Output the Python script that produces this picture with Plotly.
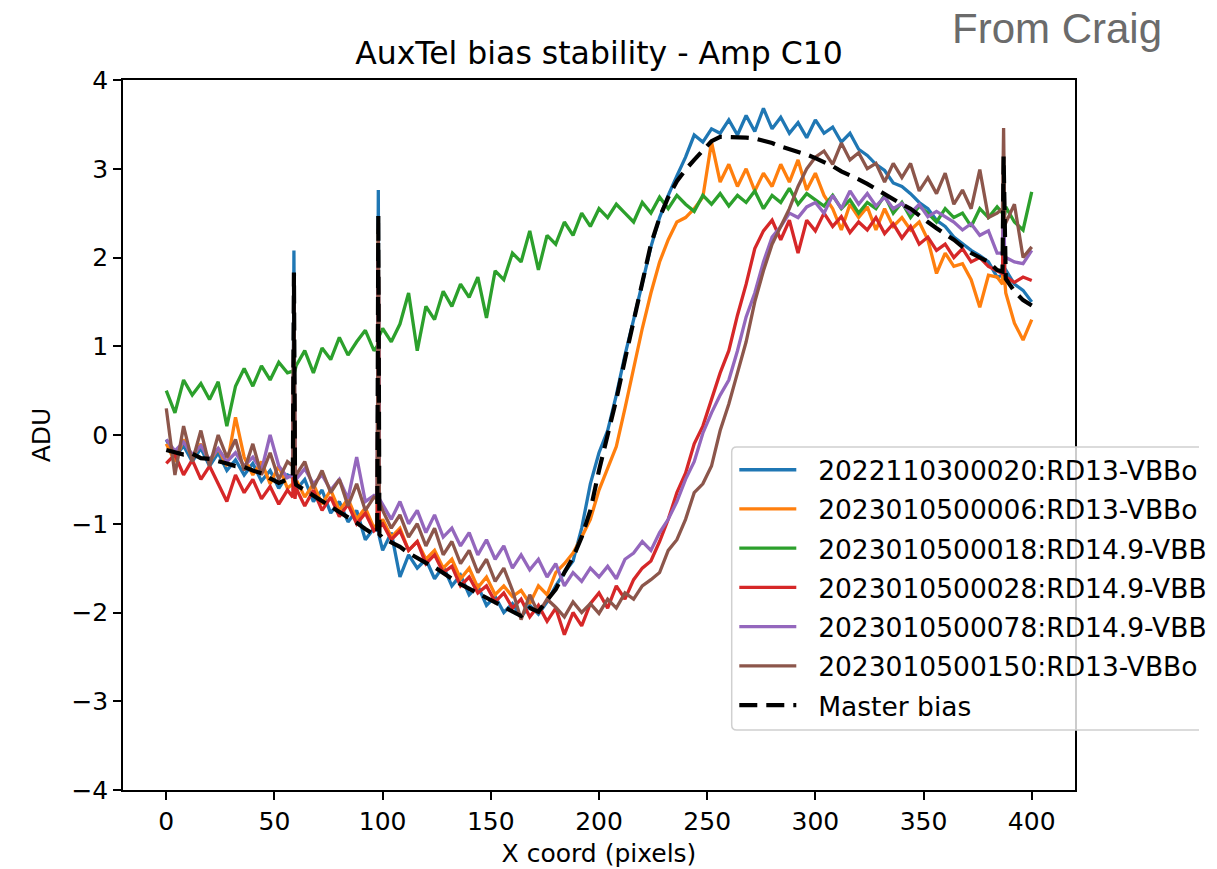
import plotly.graph_objects as go

# ---------------- data ----------------
# x sample positions (pixel columns), with extra samples around the three hot-column spikes
X = (list(range(0, 57, 4)) + [58.5, 59, 59.5] + list(range(60, 97, 4)) + [97.5, 98, 98.5]
     + list(range(100, 385, 4)) + [386.5, 387, 387.5] + list(range(388, 401, 4)))

NAMES = ["2022110300020:RD13-VBBo", "2023010500006:RD13-VBBo", "2023010500018:RD14.9-VBB",
         "2023010500028:RD14.9-VBB", "2023010500078:RD14.9-VBB", "2023010500150:RD13-VBBo"]
MASTER_NAME = "Master bias"
COLORS = ["#1f77b4", "#ff7f0e", "#2ca02c", "#d62728", "#9467bd", "#8c564b"]

Y_2022110300020 = (
    [-0.05, -0.25, -0.12, -0.30, -0.15, -0.35, -0.20, -0.40, -0.28, -0.45, -0.32, -0.52, -0.40, -0.60, -0.45]
    + [-0.48, 2.08, -0.52]
    + [-0.62, -0.50, -0.75, -0.62, -0.88, -0.75, -0.98, -0.85, -1.18, -1.05]
    + [-1.08, 2.76, -1.15]
    + [-1.30, -1.10, -1.60, -1.35, -1.50, -1.40, -1.62, -1.48,
       -1.70, -1.58, -1.80, -1.70, -1.92, -1.82, -2.00, -1.90,
       -2.05, -1.92, -2.02, -1.88, -1.70, -1.55, -1.42, -1.05,
       -0.55, -0.20, 0.05, 0.45, 0.90, 1.30, 1.72, 2.12,
       2.45, 2.70, 2.92, 3.13, 3.38, 3.30, 3.45, 3.40,
       3.55, 3.38, 3.60, 3.42, 3.68, 3.45, 3.58, 3.40,
       3.52, 3.35, 3.55, 3.40, 3.47, 3.30, 3.40, 3.22,
       3.15, 3.05, 2.98, 2.84, 2.80, 2.72, 2.62, 2.55,
       2.42, 2.35, 2.23, 2.15, 2.08, 2.02, 1.95, 1.78]
    + [1.80, 2.60, 1.85]
    + [1.86, 1.70, 1.63, 1.50])

Y_2023010500006 = (
    [-0.10, -0.30, -0.05, -0.25, -0.10, -0.30, -0.15, -0.35, 0.20, -0.25, -0.45, -0.30, -0.55, -0.35, -0.60]
    + [-0.55, 1.58, -0.55]
    + [-0.50, -0.70, -0.55, -0.78, -0.62, -0.85, -0.72, -0.95, -0.82, -1.05]
    + [-1.00, 2.32, -1.05]
    + [-0.95, -1.15, -1.05, -1.30, -1.20, -1.40, -1.30, -1.50,
       -1.40, -1.62, -1.50, -1.72, -1.60, -1.80, -1.70, -1.82,
       -1.75, -1.90, -1.70, -1.80, -1.55, -1.45, -1.33, -1.15,
       -0.95, -0.62, -0.38, -0.13, 0.30, 0.75, 1.20, 1.60,
       1.95, 2.20, 2.40, 2.45, 2.55, 2.68, 3.30, 2.85,
       3.05, 2.80, 3.00, 2.75, 2.95, 2.80, 3.05, 2.85,
       3.10, 2.76, 2.95, 2.70, 2.55, 2.31, 2.60, 2.45,
       2.57, 2.31, 2.55, 2.35, 2.45, 2.31, 2.40, 2.20,
       1.82, 2.05, 1.90, 1.93, 1.75, 1.44, 1.80, 1.78]
    + [1.70, 2.55, 1.75]
    + [1.60, 1.26, 1.07, 1.30])

Y_2023010500018 = (
    [0.50, 0.25, 0.62, 0.45, 0.58, 0.40, 0.60, 0.10, 0.55, 0.75, 0.55, 0.78, 0.62, 0.82, 0.70]
    + [0.72, 0.68, 0.75]
    + [0.78, 0.95, 0.70, 0.98, 0.85, 1.10, 0.90, 1.05, 1.18, 0.95]
    + [1.00, 1.05, 1.12]
    + [1.20, 1.05, 1.25, 1.60, 0.95, 1.45, 1.30, 1.62,
       1.45, 1.70, 1.55, 1.78, 1.32, 1.85, 1.75, 2.05,
       1.95, 2.30, 1.86, 2.25, 2.15, 2.40, 2.25, 2.50,
       2.35, 2.55, 2.45, 2.60, 2.50, 2.40, 2.62, 2.50,
       2.68, 2.55, 2.70, 2.60, 2.52, 2.70, 2.60, 2.72,
       2.58, 2.70, 2.62, 2.75, 2.55, 2.70, 2.62, 2.78,
       2.60, 2.72, 2.65, 2.58, 2.70, 2.55, 2.65, 2.50,
       2.62, 2.55, 2.70, 2.50, 2.62, 2.45, 2.58, 2.50,
       2.40, 2.55, 2.45, 2.50, 2.35, 2.55, 2.45, 2.57]
    + [2.50, 2.55, 2.48]
    + [2.57, 2.40, 2.31, 2.74])

Y_2023010500028 = (
    [-0.32, -0.22, -0.45, -0.28, -0.50, -0.35, -0.55, -0.75, -0.45, -0.65, -0.50, -0.72, -0.58, -0.78, -0.62]
    + [-0.70, 1.50, -0.72]
    + [-0.60, -0.80, -0.62, -0.85, -0.70, -0.92, -0.78, -1.00, -0.88, -1.08]
    + [-1.05, 2.00, -1.02]
    + [-1.00, -1.18, -1.08, -1.30, -1.20, -1.45, -1.35, -1.55,
       -1.48, -1.70, -1.60, -1.78, -1.70, -1.88, -1.78, -1.95,
       -1.85, -2.05, -1.92, -2.10, -1.95, -2.25, -2.00, -2.15,
       -1.90, -1.78, -1.95, -1.70, -1.85, -1.63, -1.50, -1.42,
       -1.20, -0.95, -0.65, -0.43, -0.10, 0.10, 0.40, 0.70,
       0.95, 1.35, 1.70, 2.10, 2.30, 2.42, 2.20, 2.42,
       2.05, 2.42, 2.30, 2.50, 2.35, 2.46, 2.28, 2.40,
       2.31, 2.45, 2.27, 2.38, 2.22, 2.35, 2.15, 2.23,
       2.08, 2.15, 2.00, 2.10, 1.95, 2.00, 1.90, 1.85]
    + [1.82, 2.60, 1.80]
    + [1.78, 1.72, 1.78, 1.74])

Y_2023010500078 = (
    [-0.05, -0.18, -0.08, -0.22, -0.12, -0.28, -0.15, -0.30, -0.20, -0.35, -0.25, -0.40, 0.00, -0.35, -0.48]
    + [-0.45, 1.55, -0.48]
    + [-0.50, -0.38, -0.55, -0.45, -0.62, -0.50, -0.72, -0.25, -0.75, -0.68]
    + [-0.70, 2.05, -0.72]
    + [-0.78, -0.95, -0.75, -1.00, -0.85, -1.10, -0.90, -1.15,
       -1.05, -1.25, -1.10, -1.35, -1.18, -1.40, -1.25, -1.50,
       -1.35, -1.52, -1.40, -1.60, -1.45, -1.70, -1.55, -1.65,
       -1.50, -1.60, -1.48, -1.62, -1.40, -1.33, -1.20, -1.30,
       -1.10, -0.95, -0.75, -0.50, -0.30, 0.02, 0.25, 0.45,
       0.62, 0.95, 1.33, 1.60, 1.95, 2.23, 2.35, 2.50,
       2.45, 2.57, 2.62, 2.50, 2.70, 2.55, 2.75, 2.60,
       2.72, 2.58, 2.68, 2.55, 2.61, 2.50, 2.60, 2.46,
       2.52, 2.46, 2.40, 2.31, 2.38, 2.25, 2.30, 2.05]
    + [2.05, 2.80, 2.00]
    + [2.00, 1.95, 1.93, 2.08])

Y_2023010500150 = (
    [0.30, -0.45, 0.10, -0.30, 0.05, -0.35, 0.00, -0.25, -0.05, -0.40, -0.10, -0.45, -0.20, -0.50, -0.30]
    + [-0.35, 1.75, -0.40]
    + [-0.45, -0.30, -0.60, -0.40, -0.65, -0.50, -0.80, -0.55, -0.85, -0.70]
    + [-0.72, 2.20, -0.75]
    + [-0.85, -1.05, -0.90, -1.15, -1.00, -1.25, -1.05, -1.35,
       -1.20, -1.45, -1.30, -1.55, -1.40, -1.65, -1.50, -1.75,
       -2.08, -1.80, -2.01, -1.85, -1.94, -2.05, -1.88, -2.00,
       -1.90, -2.01, -1.85, -1.95, -1.78, -1.85, -1.70, -1.63,
       -1.55, -1.30, -1.18, -0.95, -0.65, -0.55, -0.35, 0.05,
       0.35, 0.70, 1.05, 1.50, 1.85, 2.15, 2.35, 2.55,
       2.80, 3.00, 3.13, 3.20, 3.05, 3.29, 3.10, 3.18,
       3.00, 3.06, 2.85, 3.06, 2.90, 3.06, 2.75, 2.90,
       2.72, 2.95, 2.60, 2.76, 2.55, 2.99, 2.45, 2.50]
    + [2.55, 3.46, 2.40]
    + [2.39, 2.60, 2.00, 2.12])

Y_MASTER = (
    [-0.17, -0.19, -0.22, -0.21, -0.26, -0.27, -0.29, -0.32, -0.35, -0.36, -0.40, -0.43, -0.49, -0.54, -0.50]
    + [-0.46, 1.83, -0.50]
    + [-0.56, -0.62, -0.69, -0.74, -0.80, -0.86, -0.92, -0.99, -1.06, -1.12]
    + [-1.10, 2.48, -1.12]
    + [-1.16, -1.21, -1.26, -1.33, -1.39, -1.44, -1.49, -1.56,
       -1.62, -1.68, -1.73, -1.78, -1.84, -1.88, -1.94, -1.98,
       -2.04, -1.95, -1.99, -1.86, -1.74, -1.55, -1.38, -1.15,
       -0.85, -0.40, 0.00, 0.40, 0.85, 1.30, 1.72, 2.15,
       2.45, 2.68, 2.86, 2.99, 3.10, 3.21, 3.31, 3.36,
       3.36, 3.35, 3.35, 3.34, 3.32, 3.29, 3.25, 3.22,
       3.20, 3.16, 3.12, 3.08, 3.03, 2.97, 2.93, 2.88,
       2.83, 2.77, 2.72, 2.66, 2.60, 2.55, 2.47, 2.40,
       2.33, 2.27, 2.20, 2.12, 2.05, 2.00, 1.95, 1.86]
    + [1.84, 3.14, 1.82]
    + [1.76, 1.62, 1.52, 1.46])

SERIES = [Y_2022110300020, Y_2023010500006, Y_2023010500018,
          Y_2023010500028, Y_2023010500078, Y_2023010500150]

X_TICKS = [0, 50, 100, 150, 200, 250, 300, 350, 400]
Y_TICKS = [-4, -3, -2, -1, 0, 1, 2, 3, 4]
Y_TICK_TEXT = ["\u22124", "\u22123", "\u22122", "\u22121", "0", "1", "2", "3", "4"]

for s in SERIES + [Y_MASTER]:
    assert len(s) == len(X), len(s)

# ---------------- layout geometry (pixels) ----------------
W, H = 1217, 869
PL, PR, PT, PB = 123, 1075, 80, 790
FONT = "DejaVu Sans"


def fx(px):
    return (px - PL) / (PR - PL)


def fy(py):
    return (PB - py) / (PB - PT)


fig = go.Figure()
NB = "\u00a0\u00a0"
for i, (name, ys, col) in enumerate(zip(NAMES, SERIES, COLORS)):
    fig.add_trace(go.Scatter(x=X, y=ys, mode="lines", name=NB + name,
                             legendgroup="g%d" % i,
                             line=dict(color=col, width=3.3)))
fig.add_trace(go.Scatter(x=X, y=Y_MASTER, mode="lines", name=NB + MASTER_NAME,
                         legendgroup="g6",
                         line=dict(color="black", width=4.2, dash="18px,9px")))

# legend frame (open on the right, as the screenshot clips it)
LX0, LX1, LY0, LY1, RR = 731.7, 1199, 447, 730, 5
bg_path = ("M {a},{b} L {c},{b} L {c},{d} L {a},{d} Z").format(
    a=fx(LX0), b=fy(LY0), c=fx(LX1), d=fy(LY1))
frame_path = ("M {x1},{t} L {xr},{t} Q {x0},{t} {x0},{tr} L {x0},{br} Q {x0},{bo} {xr},{bo} L {x1},{bo}").format(
    x1=fx(LX1), t=fy(LY0), xr=fx(LX0 + RR), x0=fx(LX0), tr=fy(LY0 + RR), br=fy(LY1 - RR), bo=fy(LY1))

fig.update_layout(
    width=W, height=H,
    margin=dict(l=PL, r=W - PR, t=PT, b=H - PB, autoexpand=False),
    paper_bgcolor="white", plot_bgcolor="white",
    font=dict(family=FONT, size=25, color="black"),
    title=dict(text="AuxTel bias stability - Amp C10", font=dict(family=FONT, size=31.5, color="black"),
               x=fx(599), xref="paper", xanchor="center", y=1 - 53 / H, yref="container", yanchor="middle"),
    xaxis=dict(range=[-20, 420], tickvals=X_TICKS, ticks="outside", ticklen=8, tickwidth=1.5,
               tickcolor="black", showline=True, linewidth=1.5, linecolor="black", mirror=True,
               showgrid=False, zeroline=False, tickfont=dict(family=FONT, size=25),
               title=dict(text="X coord (pixels)", font=dict(family=FONT, size=25), standoff=10)),
    yaxis=dict(range=[-4, 4], tickvals=Y_TICKS, ticktext=Y_TICK_TEXT, ticks="outside", ticklen=8,
               tickwidth=1.5, tickcolor="black", showline=True, linewidth=1.5, linecolor="black",
               mirror=True, showgrid=False, zeroline=False, tickfont=dict(family=FONT, size=25),
               title=dict(text="ADU", font=dict(family=FONT, size=25), standoff=14)),
    legend=dict(x=fx(734.3), y=fy(446), xanchor="left", yanchor="top", bgcolor="rgba(0,0,0,0)",
                borderwidth=0, font=dict(family=FONT, size=26.5, color="black"), itemwidth=57,
                traceorder="grouped", tracegroupgap=1.8),
    shapes=[
        dict(type="path", xref="paper", yref="paper", path=bg_path, layer="above",
             fillcolor="rgba(255,255,255,0.8)", line=dict(width=0)),
        dict(type="path", xref="paper", yref="paper", path=frame_path, layer="above",
             fillcolor="rgba(0,0,0,0)", line=dict(color="#d0d0d0", width=1.5)),
    ],
    annotations=[
        dict(text="From Craig", xref="paper", yref="paper", x=fx(1056.5), y=fy(28),
             xanchor="center", yanchor="middle", showarrow=False,
             font=dict(family="Liberation Sans", size=42, color="#6b6b6b")),
    ],
)

fig.write_html("out.html")
